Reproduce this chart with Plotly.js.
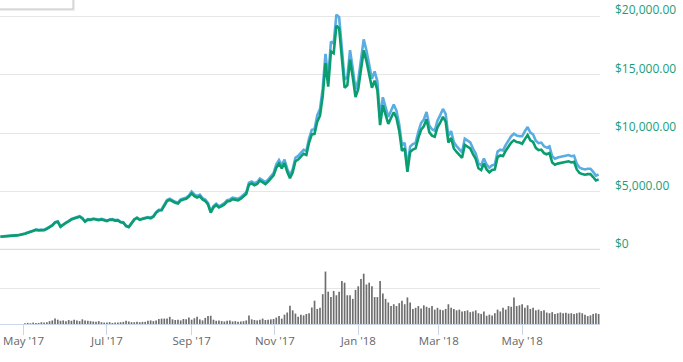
<!DOCTYPE html>
<html>
<head>
<meta charset="utf-8">
<script src="https://cdn.plot.ly/plotly-3.0.1.min.js"></script>
<style>html,body{margin:0;padding:0;background:#fff;}#chart{width:683px;height:362px;}</style>
</head>
<body>
<div id="chart"></div>
<script>
// Sampling: one point every 2 days starting 14 Apr 2017
const startDate = '2017-04-14';
const stepDays = 2;

// Lower (green) price series, USD
const priceGreen = [
1140,1150,1160,1170,1180,1200,1250,1290,1320,
1400,1480,1540,1640,1720,1680,1720,1700,1820,1980,2100,2350,2420,1990,2180,
2320,2450,2620,2700,2780,2850,2700,2420,2600,2580,2650,2600,2560,2620,2560,
2480,2580,2600,2520,2540,2380,2340,2050,1960,2280,2600,2740,2580,2650,2720,2780,
2720,2850,3180,3380,3400,3800,4200,4300,4150,4050,3980,4250,4320,4380,4580,
4850,4620,4500,4600,4320,4200,3900,3200,3650,3850,3650,3750,3900,4150,4200,
4350,4300,4250,4400,4600,4800,5600,5700,5550,5650,5950,5800,5650,5850,6100,6400,
7050,7400,7000,7450,6700,6150,6650,7600,7750,8050,8250,8150,9200,9900,9950,
11000,11500,13200,16000,14000,17000,16850,19200,19000,16500,13900,14100,16300,14800,13100,
13800,15500,17100,16200,14900,13900,14500,13700,10700,12400,11600,10800,11300,11800,11300,10200,
8500,8700,6700,8400,8600,8700,9600,10300,10600,11200,10100,9800,9700,10500,
10900,11400,11000,9200,9600,8700,8400,8100,7900,9000,8850,8700,8200,7800,7000,
6850,7400,6900,6650,6850,6900,7950,8100,8050,8500,8850,9200,9400,9250,9200,
9100,9500,9850,9400,9250,8750,8550,8600,8300,8200,8300,7500,7300,7400,7450,7500,
7550,7600,7500,7550,6900,6600,6500,6450,6500,6500,6250,5950,6050
];

// Upper (blue) price series, USD
const priceBlue = [
1160,1170,1180,1190,1200,1220,1270,1310,1340,
1420,1500,1560,1660,1750,1710,1750,1730,1850,2010,2130,2390,2460,2020,2210,
2350,2490,2660,2740,2820,2890,2740,2460,2640,2620,2690,2640,2600,2660,2600,
2520,2620,2640,2560,2580,2420,2380,2080,1990,2310,2640,2780,2620,2690,2760,2820,
2770,2910,3240,3450,3470,3880,4280,4390,4230,4130,4060,4340,4410,4470,4670,
5000,4760,4640,4740,4450,4330,4020,3300,3760,3970,3760,3860,4020,4270,4330,
4480,4430,4380,4530,4740,4940,5770,5870,5720,5820,6130,5970,5820,6030,6280,6590,
7330,7700,7280,7750,6970,6400,6920,7900,8060,8370,8580,8480,9570,10300,10350,
11550,12080,13860,16800,14700,17850,17690,20160,19950,17330,14600,14810,17120,15540,13760,
14560,16350,18040,17090,15720,14660,15300,14450,11290,13080,12240,11390,11920,12450,11920,10760,
8970,9180,7070,8860,9070,9180,10130,10870,11180,11820,10660,10340,10230,11080,
11550,12080,11660,9750,10180,9220,8900,8590,8370,9540,9380,9220,8690,8270,7420,
7260,7840,7310,7050,7260,7310,8430,8590,8530,9010,9380,9750,9960,9810,9750,
9740,10170,10540,10060,9900,9360,9150,9200,8880,8770,8880,8030,7810,7920,7970,8030,
8080,8130,8030,8080,7380,7060,6960,6900,6960,6960,6690,6370,6470
];

// Volume (relative units; gridline at 10)
const volume = [
0,0,0,0,0,0,0,0,0,
0.2,0.3,0.2,0.4,0.3,0.3,0.5,0.4,0.5,0.8,1.0,1.5,1.2,0.9,1.0,
0.8,1.1,0.9,1.2,1.0,0.8,1.3,1.0,0.9,0.8,0.7,0.6,0.8,0.5,0.4,
0.4,0.5,0.3,0.4,0.4,0.5,0.6,0.9,0.7,0.5,0.5,0.6,0.5,0.6,0.6,0.9,
1.0,0.8,1.0,1.4,1.5,1.5,1.5,2.0,1.3,1.1,1.2,1.0,1.4,1.3,1.8,
1.2,1.6,2.0,1.3,1.0,1.7,2.2,2.3,1.2,0.9,1.0,0.8,0.7,0.9,1.0,
0.7,0.8,0.6,0.7,0.8,1.0,2.4,1.3,1.1,1.0,1.2,1.5,1.1,1.2,1.3,1.4,
1.8,2.2,1.5,2.6,3.2,5.1,3.8,2.9,2.0,2.6,2.4,2.8,3.0,4.6,6.5,
4.2,4.5,8.3,14.6,9.0,7.5,9.2,8.0,9.0,12.0,11.5,8.0,8.0,7.0,9.5,
10.5,12.5,14.0,11.0,11.5,10.5,7.5,7.5,12.0,8.5,7.0,6.0,5.0,5.5,5.0,5.8,
6.5,5.5,7.4,6.0,4.2,4.5,5.0,4.3,5.2,4.8,4.5,5.0,4.0,4.5,
4.0,3.8,4.2,5.5,4.5,4.2,3.8,4.0,3.5,3.6,3.8,3.3,3.5,3.8,3.0,
2.8,3.5,2.3,2.6,2.4,3.0,4.0,3.5,4.5,4.0,5.0,4.8,7.4,5.0,5.2,
5.5,4.5,5.2,4.2,4.5,3.8,4.0,3.6,3.8,3.2,3.0,3.3,2.8,3.0,3.2,3.0,
3.1,2.9,3.0,2.8,3.0,3.2,3.0,2.6,2.2,2.4,2.8,3.0,2.8
];

const xTickVals = ['2017-05-01','2017-07-01','2017-09-01','2017-11-01','2018-01-01','2018-03-01','2018-05-01'];
const xTickText = ["May '17","Jul '17","Sep '17","Nov '17","Jan '18","Mar '18","May '18"];
const yTickVals = [0,5000,10000,15000,20000];
const yTickText = ['$0','$5,000.00','$10,000.00','$15,000.00','$20,000.00'];

const t0 = Date.parse(startDate + 'T00:00:00Z');
const dates = priceGreen.map((_, i) => new Date(t0 + i * stepDays * 86400000).toISOString().slice(0, 10));

const traces = [
  {x: dates, y: volume, type: 'bar', xaxis: 'x', yaxis: 'y2',
   marker: {color: '#6e6e6e', line: {width: 0}}, hoverinfo: 'skip'},
  {x: dates, y: priceBlue, type: 'scatter', mode: 'lines', xaxis: 'x', yaxis: 'y',
   line: {color: '#5aade3', width: 2.6}, hoverinfo: 'skip'},
  {x: dates, y: priceGreen, type: 'scatter', mode: 'lines', xaxis: 'x', yaxis: 'y',
   line: {color: '#0a9d6f', width: 2.6}, hoverinfo: 'skip'}
];

const plotH = 324;
const plotW = 600;
const volFrac = 74 / plotH;

// y-axis labels sit just above their gridlines, like the original
const yLabels = yTickVals.map((v, i) => ({
  xref: 'paper', yref: 'y', x: 1 + 13 / plotW, y: v,
  xanchor: 'left', yanchor: 'bottom', yshift: -4,
  text: yTickText[i], showarrow: false,
  font: {size: 12, color: '#1a9d7c', family: 'Open Sans, sans-serif'}
}));

const layout = {
  width: 683, height: 362,
  margin: {l: 0, r: 83, t: 0, b: 38, pad: 0},
  paper_bgcolor: '#ffffff', plot_bgcolor: '#ffffff',
  showlegend: false,
  bargap: 0.38,
  font: {family: 'Open Sans, sans-serif', color: '#666666'},
  xaxis: {
    anchor: 'y2', type: 'date',
    range: ['2017-04-13 17:00', '2018-06-27 00:00'],
    tickmode: 'array', tickvals: xTickVals, ticktext: xTickText,
    showgrid: false, zeroline: false,
    showline: true, linecolor: '#ccd6eb', linewidth: 1,
    ticks: 'outside', ticklen: 10, tickcolor: '#ccd6eb', tickwidth: 1,
    ticklabelstandoff: -4,
    tickfont: {size: 11.5, color: '#666666', family: 'Open Sans, sans-serif'},
    fixedrange: true
  },
  yaxis: {
    domain: [volFrac, 1], anchor: 'x', side: 'right',
    range: [0, 20000 * 250 / 233.5],
    tickmode: 'array', tickvals: yTickVals, ticktext: yTickText,
    showticklabels: false,
    showgrid: true, gridcolor: '#e6e6e6', gridwidth: 1,
    zeroline: false, showline: false, ticks: '',
    fixedrange: true
  },
  yaxis2: {
    domain: [0, volFrac], anchor: 'x', side: 'right',
    range: [0, 20.6],
    tickmode: 'array', tickvals: [10],
    showticklabels: false, showgrid: true, gridcolor: '#e6e6e6', gridwidth: 1,
    zeroline: false, showline: false, ticks: '',
    fixedrange: true
  },
  annotations: yLabels,
  shapes: [
    {type: 'line', xref: 'paper', yref: 'y', x0: 0, x1: 1, y0: 0, y1: 0,
     line: {color: '#dedede', width: 2.5}, layer: 'below'},
    {type: 'rect', xref: 'paper', yref: 'paper', x0: -0.02, x1: 75 / plotW, y0: 1 - 11 / plotH, y1: 1.05,
     fillcolor: '#ebebeb', line: {width: 0}},
    {type: 'rect', xref: 'paper', yref: 'paper', x0: -0.02, x1: 73 / plotW, y0: 1 - 9 / plotH, y1: 1.05,
     fillcolor: '#ffffff', line: {color: '#c4c4c4', width: 1}}
  ]
};

Plotly.newPlot('chart', traces, layout, {displayModeBar: false, staticPlot: true});
</script>
</body>
</html>
